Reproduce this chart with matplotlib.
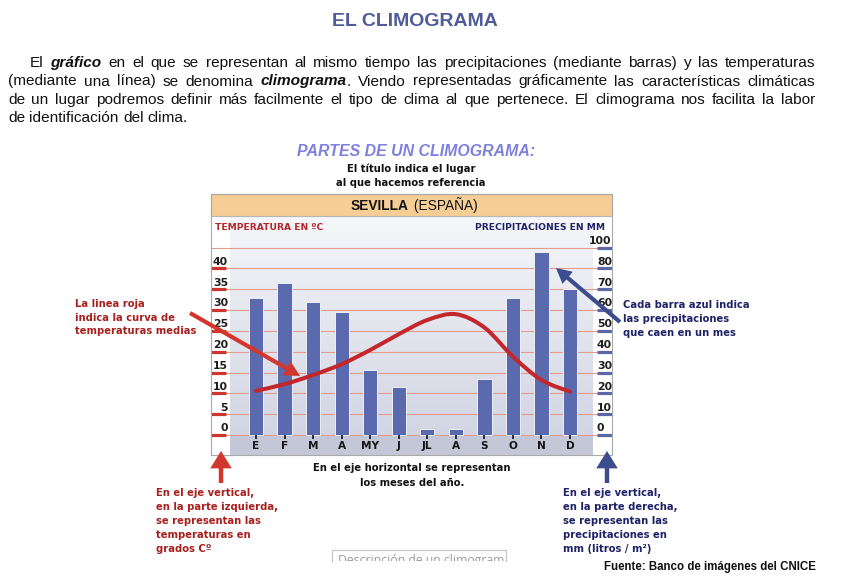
import numpy as np
import matplotlib
matplotlib.use("Agg")
import matplotlib.pyplot as plt
from matplotlib.path import Path
from matplotlib.patches import PathPatch, Rectangle, FancyArrowPatch
from matplotlib.colors import LinearSegmentedColormap

months = ["E", "F", "M", "A", "MY", "J", "JL", "A", "S", "O", "N", "D"]
precip = [66, 73, 64, 59, 31, 23, 3, 3, 27, 66, 88, 70]
temps = [10.6, 12.2, 14.4, 17.0, 20.4, 24.2, 27.6, 29.0, 25.8, 18.8, 13.2, 10.4]
temp_ticks = [0, 5, 10, 15, 20, 25, 30, 35, 40]
prec_ticks = [0, 10, 20, 30, 40, 50, 60, 70, 80, 90]
prec_labels = ["0", "10", "20", "30", "40", "50", "60", "70", "80", "100"]

W, H = 845, 578
fig = plt.figure(figsize=(W / 100, H / 100), dpi=100)
rend = fig.canvas.get_renderer()

RED_TXT = "#a8201e"
NAVY_TXT = "#1f2266"
BOLD = "DejaVu Sans"
ARIAL = "Liberation Sans"
NARROW = ["Liberation Sans Narrow", "Liberation Sans"]
ASIZE = 7.2


def fx(x):
    return x / W


def fy(y):
    return 1 - y / H


def ftext(x, y, s, **kw):
    kw.setdefault("va", "center")
    return fig.text(fx(x), fy(y), s, **kw)


# ---------- heading and paragraph ----------
ftext(415, 22, "EL CLIMOGRAMA", ha="center", family=NARROW, weight="bold",
      size=14, color="#4f5b9b")

styles = {0: dict(weight="normal", style="normal"),
          1: dict(weight="bold", style="italic")}
para = [
    "El *gráfico* en el que se representan al mismo tiempo las precipitaciones (mediante barras) y las temperaturas",
    "(mediante una línea) se denomina *climograma*. Viendo representadas gráficamente las características climáticas",
    "de un lugar podremos definir más facilmente el tipo de clima al que pertenece. El climograma nos facilita la labor",
    "de identificación del clima.",
]
para_x0 = [30, 8, 8, 8]
para_base = [67, 85.5, 104, 122.5]
PSIZE = 11.1


def measure(t):
    return t.get_window_extent(rend).width


probe = fig.text(0, 0, "a a", family=NARROW, size=PSIZE)
probe2 = fig.text(0, 0, "aa", family=NARROW, size=PSIZE)
space_w = measure(probe) - measure(probe2)
probe.remove()
probe2.remove()

for i, line in enumerate(para):
    words = []
    for w in line.split(" "):
        segs = []
        for k, part in enumerate(w.split("*")):
            if part:
                t = fig.text(0, 0, part, family=NARROW, size=PSIZE,
                             color="#111111", va="baseline", **styles[k % 2])
                segs.append((t, measure(t)))
        words.append(segs)
    widths = [sum(s[1] for s in segs) for segs in words]
    if i < len(para) - 1:
        gap = (815 - para_x0[i] - sum(widths)) / (len(words) - 1)
    else:
        gap = space_w
    x = para_x0[i]
    for segs, wd in zip(words, widths):
        xx = x
        for t, sw in segs:
            t.set_position((fx(xx), fy(para_base[i])))
            xx += sw
        x += wd + gap

# ---------- headings above chart ----------
ftext(416, 152, "PARTES DE UN CLIMOGRAMA:", ha="center", family=ARIAL,
      weight="bold", style="italic", size=11.4, color="#7f80de")
ftext(411, 168.5, "El título indica el lugar", ha="center", family=BOLD,
      weight="bold", size=ASIZE, color="#111111")
ftext(411, 183, "al que hacemos referencia", ha="center", family=BOLD,
      weight="bold", size=ASIZE, color="#111111")

# frame and header band
fig.add_artist(Rectangle((fx(211), fy(216)), fx(612) - fx(211), fy(194) - fy(216),
                         transform=fig.transFigure, facecolor="#f7cd96",
                         edgecolor="#b5b5b5", lw=0.8, zorder=3))
fig.add_artist(Rectangle((fx(211), fy(455)), fx(612) - fx(211), fy(194) - fy(455),
                         transform=fig.transFigure, facecolor="none",
                         edgecolor="#a9a9a9", lw=0.8, zorder=4))

t1 = fig.text(0, 0, "SEVILLA", family=ARIAL, weight="bold", size=9.9,
              color="#111111", va="center", zorder=5)
t2 = fig.text(0, 0, " (ESPAÑA)", family=ARIAL, size=9.9, color="#111111",
              va="center", zorder=5)
w1, w2 = measure(t1), measure(t2)
xs0 = 413 - (w1 + w2) / 2
t1.set_position((fx(xs0), fy(205.5)))
t2.set_position((fx(xs0 + w1 + 2), fy(205.5)))

ftext(215, 228, "TEMPERATURA EN ºC", family=BOLD, weight="bold", size=6.6,
      color="#b3272a", zorder=5)
ftext(605, 228, "PRECIPITACIONES EN MM", ha="right", family=BOLD,
      weight="bold", size=6.6, color=NAVY_TXT, zorder=5)

# ---------- chart ----------
PX_M = 28.55           # pixels per month
PX_T = 20.83 / 5       # pixels per degree
x_lo, x_hi = (211 - 256) / PX_M, (612 - 256) / PX_M
t_lo, t_hi = -(455 - 435) / PX_T, (435 - 216) / PX_T
plot_l, plot_r = (230 - 256) / PX_M, (593 - 256) / PX_M

ax = fig.add_axes([fx(211), fy(455), fx(612) - fx(211), fy(216) - fy(455)])
ax2 = ax.twinx()
ax.set_zorder(ax2.get_zorder() + 1)
ax.patch.set_visible(False)
for a in (ax, ax2):
    a.set_xlim(x_lo, x_hi)
    a.set_xticks([])
    a.set_yticks([])
    for sp in a.spines.values():
        sp.set_visible(False)
ax.set_ylim(t_lo, t_hi)
ax2.set_ylim(2 * t_lo, 2 * t_hi)

# background gradient and month band
grad = LinearSegmentedColormap.from_list("bg", ["#d2d5e3", "#f6f7fa"])
ax2.imshow(np.linspace(0, 1, 256).reshape(-1, 1), cmap=grad, origin="lower",
           aspect="auto", extent=(plot_l, plot_r, 0, 2 * t_hi), zorder=0)
ax2.add_patch(Rectangle((plot_l, 2 * t_lo), plot_r - plot_l, -2 * t_lo,
                        facecolor="#c4c7d7", edgecolor="none", zorder=0.5))
ax2.set_xlim(x_lo, x_hi)
ax2.set_ylim(2 * t_lo, 2 * t_hi)

# grid lines
ax2.hlines(prec_ticks, x_lo, x_hi, color="#e49b8b", lw=0.8, zorder=1)

# bars
ax2.bar(np.arange(len(months)), precip, width=0.5, color="#5b69ae",
        edgecolor="#eef0f6", lw=0.7, zorder=2)

# right-hand precipitation scale
ax2.hlines(prec_ticks, (597 - 256) / PX_M, x_hi, color="#5a68a6", lw=2.3, zorder=3)
for v, lbl in zip(prec_ticks, prec_labels):
    if len(lbl) < 3:
        ax2.annotate(lbl, ((597 - 256) / PX_M, v), xytext=(0, 2.6),
                     textcoords="offset points", ha="left", va="baseline",
                     family=BOLD, weight="bold", size=7.8, color="#1e1e1e")
    else:
        ax2.annotate(lbl, (x_hi, v), xytext=(-0.5, 2.6),
                     textcoords="offset points", ha="right", va="baseline",
                     family=BOLD, weight="bold", size=7.8, color="#1e1e1e")

# left-hand temperature scale
ax.hlines(temp_ticks, x_lo, (226 - 256) / PX_M, color="#cc3530", lw=2.3, zorder=3)
for v in temp_ticks:
    ax.annotate(str(v), ((228 - 256) / PX_M, v), xytext=(0, 2.6),
                textcoords="offset points", ha="right", va="baseline",
                family=BOLD, weight="bold", size=7.8, color="#1e1e1e")

# month ticks and labels
xm = np.arange(len(months))
ax.vlines(xm, -4 / PX_T, 0, color="#111111", lw=1.2, zorder=3)
for i, m in enumerate(months):
    ax.text(i, -(449 - 435) / PX_T, m, ha="center", va="baseline",
            family=BOLD, weight="bold", size=7.6, color="#151515")

# smooth temperature curve (Catmull-Rom through the monthly values)
P = np.column_stack([xm, temps])
Pe = np.vstack([P[0], P, P[-1]])
verts, codes = [P[0]], [Path.MOVETO]
for i in range(len(P) - 1):
    p0, p1, p2, p3 = Pe[i], Pe[i + 1], Pe[i + 2], Pe[i + 3]
    verts += [p1 + (p2 - p0) / 6, p2 - (p3 - p1) / 6, p2]
    codes += [Path.CURVE4] * 3
ax.add_patch(PathPatch(Path(verts, codes), facecolor="none",
                       edgecolor="#c3272c", lw=2.9, capstyle="round", zorder=4))

# ---------- annotations ----------
for j, s in enumerate(["La linea roja", "indica la curva de",
                       "temperaturas medias"]):
    ftext(75, 304 + 13.7 * j, s, family=BOLD, weight="bold", size=ASIZE,
          color=RED_TXT)
for j, s in enumerate(["Cada barra azul indica", "las precipitaciones",
                       "que caen en un mes"]):
    ftext(623, 305 + 13.8 * j, s, family=BOLD, weight="bold", size=ASIZE,
          color=NAVY_TXT)
for j, s in enumerate(["En el eje horizontal se representan",
                       "los meses del año."]):
    ftext(412, 468 + 14.5 * j, s, ha="center", family=BOLD, weight="bold",
          size=ASIZE, color="#111111")
for j, s in enumerate(["En el eje vertical,", "en la parte izquierda,",
                       "se representan las", "temperaturas en", "grados Cº"]):
    ftext(156, 493.3 + 14 * j, s, family=BOLD, weight="bold", size=ASIZE,
          color=RED_TXT)
for j, s in enumerate(["En el eje vertical,", "en la parte derecha,",
                       "se representan las", "precipitaciones en",
                       "mm (litros / m²)"]):
    ftext(563, 493.3 + 14 * j, s, family=BOLD, weight="bold", size=ASIZE,
          color=NAVY_TXT)
ftext(816, 567, "Fuente: Banco de imágenes del CNICE", ha="right",
      family=ARIAL, weight="bold", size=8.3, color="#111111")


def arrow(p0, p1, color, hw, hl, tw):
    fig.add_artist(FancyArrowPatch(
        (fx(p0[0]), fy(p0[1])), (fx(p1[0]), fy(p1[1])),
        transform=fig.transFigure, color=color, lw=0, shrinkA=0, shrinkB=0,
        arrowstyle=f"simple,head_width={hw},head_length={hl},tail_width={tw}",
        mutation_scale=10, zorder=6))


arrow((190, 313), (300, 376), "#d2372d", 1.15, 1.1, 0.3)
arrow((620, 322), (556, 268), "#3d4c8e", 1.15, 1.1, 0.3)
arrow((221, 483), (221, 451), "#d2372d", 1.55, 1.25, 0.32)
arrow((607, 483), (607, 451), "#3d4c8e", 1.55, 1.25, 0.32)

# cut-off caption box at the bottom
dax = fig.add_axes([fx(332), fy(561), fx(506) - fx(332), fy(550) - fy(561)])
dax.set_xlim(0, 1)
dax.set_ylim(0, 1)
dax.axis("off")
dax.plot([0, 0, 1, 1], [0, 1, 1, 0], color="#c8c8c8", lw=0.9, clip_on=False)
dax.text(0.035, -0.3, "Descripción de un climograma", ha="left", va="baseline",
         family="Open Sans", size=8.8, color="#9a9a9a", clip_on=True)

fig.savefig("out.png", dpi=100)
